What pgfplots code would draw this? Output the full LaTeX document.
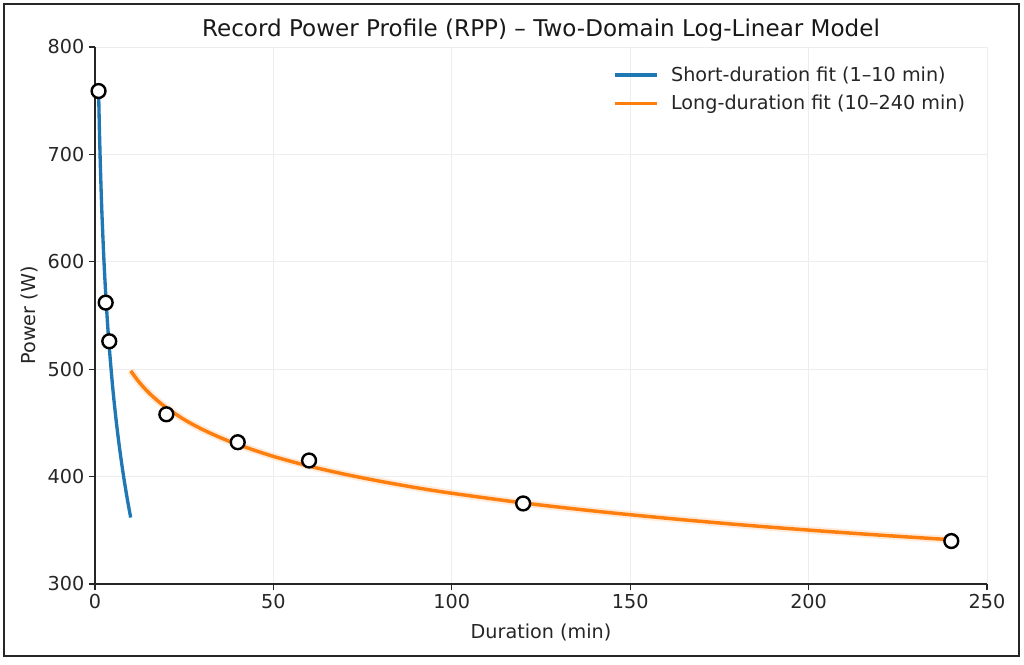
\documentclass[border=0pt]{standalone}
\usepackage{pgfplots}
\pgfplotsset{compat=1.18}
\usepackage{fontspec}
\setmainfont{DejaVu Sans}
\definecolor{mblue}{HTML}{1F77B4}
\definecolor{morange}{HTML}{FF7F0E}
\pgfplotstableread{
t P
10 498.5
12 489.5
14 481.8
16 475.2
18 469.4
20 464.2
25 453.1
30 444.1
35 436.5
40 429.9
50 418.8
60 409.8
70 402.2
80 395.6
90 389.7
100 384.5
120 375.5
140 367.9
160 361.3
180 355.4
200 350.2
220 345.5
240 341.2
}\longfit
\pgfplotstableread{
t P
1 760
1.25 721.4
1.5 689.9
1.75 663.2
2 640.2
2.5 601.6
3 570.1
3.5 543.4
4 520.3
5 481.7
6 450.2
7 423.6
8 400.5
9 380.1
10 361.9
}\shortfit
\pgfplotstableread{
t P
1 759
3 562
4 526
20 458
40 432
60 415
120 375
240 340
}\points
\begin{document}
\begin{tikzpicture}[x=0.75pt,y=0.75pt]
\useasboundingbox (-95,-80) rectangle (929,584);
\fill[white] (-95,-80) rectangle (929,584);
\draw[line width=1.2pt, black!85] (-91,-72) rectangle (924,580);
\begin{axis}[
  at={(0,0)}, anchor=south west,
  scale only axis, width=669pt, height=402.75pt,
  xmin=0, xmax=250, ymin=300, ymax=800,
  xtick={0,50,...,250}, ytick={300,400,...,800},
  axis lines*=left,
  tick align=outside,
  major tick length=4.5pt,
  axis line style={line width=0.9pt, black!85},
  tick style={line width=0.9pt, black!85},
  grid=major,
  grid style={color=black!7, line width=0.6pt},
  /pgf/number format/assume math mode=true,
  ticklabel style={font=\fontsize{14.4}{16}\selectfont, text=black!85},
  label style={font=\fontsize{14.4}{16}\selectfont, text=black!85},
  xlabel={Duration (min)},
  ylabel={Power (W)},
  xlabel style={at={(axis description cs:0.5,-0.0894)}, anchor=center},
  ylabel style={at={(axis description cs:-0.0729,0.5)}, anchor=center},
  title={Record Power Profile (RPP) – Two-Domain Log-Linear Model},
  title style={font=\fontsize{17.3}{19}\selectfont, text=black!90, at={(axis description cs:0.5,1)}, anchor=center, yshift=6.75pt},
  legend style={at={(axis description cs:0.9787,0.969)}, anchor=north east,
    draw=none, fill=none, font=\fontsize{14.4}{16}\selectfont, text=black!85,
    inner xsep=0pt, inner ysep=0pt, row sep=5pt},
  legend cell align=left,
  legend image code/.code={\draw[#1] (0pt,0pt) -- (31.5pt,0pt); \path (39pt,0pt);},
]
\addplot[mblue, line width=2.5pt, smooth] table[x=t,y=P] {\shortfit};
\addlegendentry{Short-duration fit (1–10 min)}
\addplot[morange, line width=5.5pt, opacity=0.15, smooth, forget plot] table[x=t,y=P] {\longfit};
\addplot[morange, line width=2.6pt, smooth] table[x=t,y=P] {\longfit};
\addlegendentry{Long-duration fit (10–240 min)}
\addplot[only marks, mark=*, mark size=5.2pt, mark options={fill=white, draw=black, line width=1.8pt}, forget plot] table[x=t,y=P] {\points};
\end{axis}
\end{tikzpicture}
\end{document}
